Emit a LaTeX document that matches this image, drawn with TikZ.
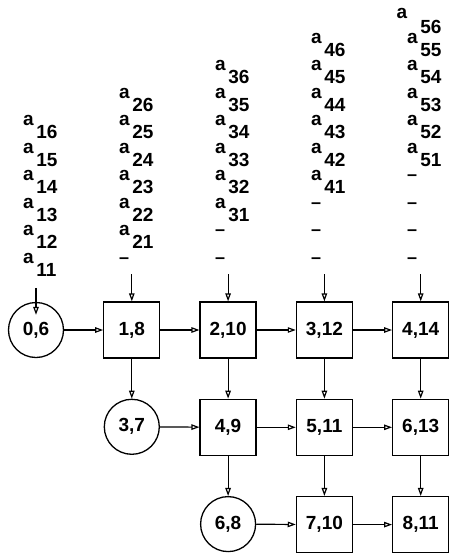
\documentclass[tikz,border=0pt]{standalone}
\usepackage{fontspec}
\setmainfont{Liberation Sans}
\usepackage{tikz}
\usetikzlibrary{positioning,arrows.meta}

\newcommand{\asub}[1]{a\hspace{2.5pt}\raisebox{-13pt}{#1}}

\begin{document}
\begin{tikzpicture}[
x=1pt, y=-1pt,
node distance=40pt and 39pt,
every node/.style={font=\bfseries\fontsize{19}{22}\selectfont},
cell/.style={
draw,
line width=1.3pt,
minimum size=56pt,
inner sep=0pt
},
circ/.style={
draw,
circle,
line width=1.3pt,
minimum size=55pt,
inner sep=0pt
},
lbl/.style={anchor=base west, inner sep=0pt},
gap/.style={anchor=base west, inner sep=0pt, font=\bfseries\fontsize{18}{20}\selectfont},
arrow/.style={-{Triangle[open,length=8pt,width=5.5pt]},line width=1.2pt}
]
\useasboundingbox (0,0) rectangle (449,555);

% First row
\node[circ] (c06) at (36,330) {0,6};
\node[cell, right=of c06] (b18) {1,8};
\node[cell, right=of b18] (b210) {2,10};
\node[cell, right=of b210] (b312) {3,12};
\node[cell, right=of b312] (b414) {4,14};

% Second row
\node[circ, below=of b18] (c37) {3,7};
\node[cell, below=of b210] (b49) {4,9};
\node[cell, below=of b312] (b511) {5,11};
\node[cell, below=of b414] (b613) {6,13};

% Third row
\node[circ, below=of b49] (c68) {6,8};
\node[cell, below=of b511] (b710) {7,10};
\node[cell, below=of b613] (b811) {8,11};

% Input streams
\node[lbl] (a16) at (23,125.5) {\asub{16}};
\node[lbl] (a15) at (23,153) {\asub{15}};
\node[lbl] (a14) at (23,180.5) {\asub{14}};
\node[lbl] (a13) at (23,208) {\asub{13}};
\node[lbl] (a12) at (23,235.5) {\asub{12}};
\node[lbl] (a11) at (23,263) {\asub{11}};

\node[lbl] (a26) at (119,98) {\asub{26}};
\node[lbl] (a25) at (119,125.5) {\asub{25}};
\node[lbl] (a24) at (119,153) {\asub{24}};
\node[lbl] (a23) at (119,180.5) {\asub{23}};
\node[lbl] (a22) at (119,208) {\asub{22}};
\node[lbl] (a21) at (119,235.5) {\asub{21}};
\node[gap] (d20) at (119,263) {--};

\node[lbl] (a36) at (215,70.5) {\asub{36}};
\node[lbl] (a35) at (215,98) {\asub{35}};
\node[lbl] (a34) at (215,125.5) {\asub{34}};
\node[lbl] (a33) at (215,153) {\asub{33}};
\node[lbl] (a32) at (215,180.5) {\asub{32}};
\node[lbl] (a31) at (215,208) {\asub{31}};
\node[gap] (d31) at (215,235.5) {--};
\node[gap] (d30) at (215,263) {--};

\node[lbl] (a46) at (311,43) {\asub{46}};
\node[lbl] (a45) at (311,70.5) {\asub{45}};
\node[lbl] (a44) at (311,98) {\asub{44}};
\node[lbl] (a43) at (311,125.5) {\asub{43}};
\node[lbl] (a42) at (311,153) {\asub{42}};
\node[lbl] (a41) at (311,180.5) {\asub{41}};
\node[gap] (d42) at (311,208) {--};
\node[gap] (d41) at (311,235.5) {--};
\node[gap] (d40) at (311,263) {--};

\node[lbl] (a56) at (396.5,18) {a\hspace{13pt}\raisebox{-15pt}{56}};
\node[lbl] (a55) at (407,43) {\asub{55}};
\node[lbl] (a54) at (407,70.5) {\asub{54}};
\node[lbl] (a53) at (407,98) {\asub{53}};
\node[lbl] (a52) at (407,125.5) {\asub{52}};
\node[lbl] (a51) at (407,153) {\asub{51}};
\node[gap] (d53) at (407,180.5) {--};
\node[gap] (d52) at (407,208) {--};
\node[gap] (d51) at (407,235.5) {--};
\node[gap] (d50) at (407,263) {--};

% Arrow starts
\coordinate[above=14pt of c06] (in1);
\coordinate[above=27pt of b18] (in2);
\coordinate[above=27pt of b210] (in3);
\coordinate[above=27pt of b312] (in4);
\coordinate[above=27pt of b414] (in5);

% Arrows
\draw[arrow] (in1)--([yshift=-13pt]c06.north);
\draw[arrow] (in2)--(b18.north);
\draw[arrow] (in3)--(b210.north);
\draw[arrow] (in4)--(b312.north);
\draw[arrow] (in5)--(b414.north);

\draw[arrow] (c06)--(b18);
\draw[arrow] (b18)--(b210);
\draw[arrow] (b210)--(b312);
\draw[arrow] (b312)--(b414);

\draw[arrow] (c37)--(b49);
\draw[arrow] (b49)--(b511);
\draw[arrow] (b511)--(b613);

\draw[arrow] (c68)--(b710);
\draw[arrow] (b710)--(b811);

\draw[arrow] (b18)--(c37);
\draw[arrow] (b210)--(b49);
\draw[arrow] (b49)--(c68);
\draw[arrow] (b312)--(b511);
\draw[arrow] (b511)--(b710);
\draw[arrow] (b414)--(b613);
\draw[arrow] (b613)--(b811);

\end{tikzpicture}
\end{document}
